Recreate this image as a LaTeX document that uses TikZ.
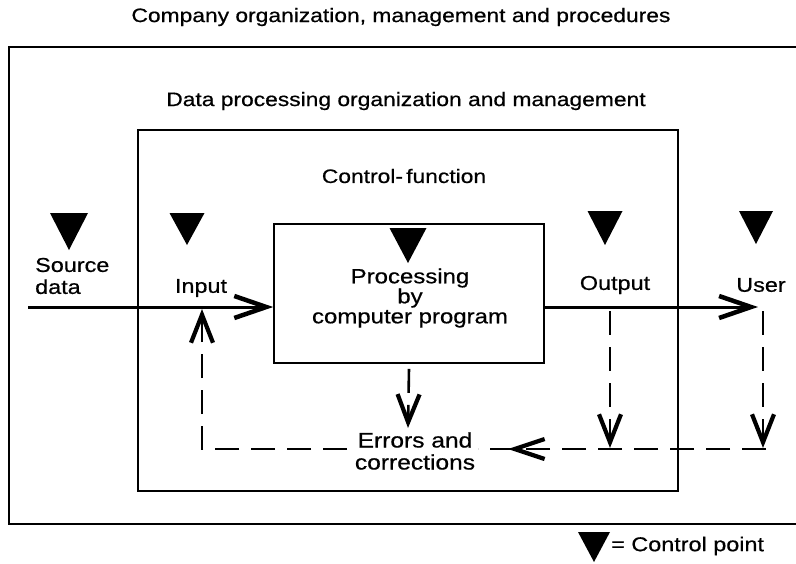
\documentclass[tikz,border=0pt]{standalone}
\usepackage{fontspec}
\setmainfont{Liberation Sans}[FakeStretch=1.17,FakeBold=0.6]
\usetikzlibrary{arrows.meta,decorations.markings}
\newcommand\ctrltri[4]{\fill (#1-#3,#2) -- (#1+#3,#2) -- (#1,#2+#4) -- cycle;}
\begin{document}
\begin{tikzpicture}[x=1pt,y=-1pt,
  txt/.style={font=\fontsize{19.5}{22}\selectfont, inner sep=0pt},
  lbl/.style={font=\fontsize{20}{22}\selectfont, inner sep=0pt},
  frame/.style={draw, line width=1.6pt},
  flow/.style={line width=3pt},
  dashln/.style={line width=2.6pt, dash pattern=on 24pt off 12pt},
  tipv/.style={-{Straight Barb[length=32pt,width=22pt,line width=4.5pt]}},
  tipd/.style={-{Straight Barb[length=28pt,width=22pt,line width=4.2pt]}}]
\useasboundingbox (0,0) rectangle (796,563);
% frames
\draw[frame] (796,47) -- (9,47) -- (9,524) -- (796,524);
\node[frame, minimum width=540pt, minimum height=361pt, inner sep=0pt] (dpbox) at (408,310.5) {};
\node[frame, minimum width=270pt, minimum height=139pt, inner sep=0pt] (proc) at (409,293.5) {};
% titles
\node[txt] (title) at (401,17) {Company organization, management and procedures};
\node[txt] (dptitle) at (406,101) {Data processing organization and management};
\node[txt] (cftitle) at (404,176) {Control-\,function};
% labels
\node[lbl, align=left, anchor=west] (src) at (35,276) {Source\\data};
\node[lbl] (inp) at (201,288) {Input};
\node[lbl] (outp) at (615,285) {Output};
\node[lbl] (user) at (761,285) {User};
\node[lbl, font=\fontsize{20.5}{20}\selectfont, align=center] (ptxt) at (410,298) {Processing\\by\\computer program};
\node[lbl, font=\fontsize{21}{22}\selectfont, align=center] (err) at (415,451) {Errors and\\corrections};
\node[lbl, anchor=west] (leg) at (611,546) {= Control point};
% control points
\ctrltri{69}{213}{19}{37}
\ctrltri{187}{213}{17.5}{32}
\ctrltri{408}{228}{18.5}{35}
\ctrltri{605}{211}{17.5}{34}
\ctrltri{756}{211}{17}{33}
\ctrltri{594}{532}{16}{30}
% coordinates
\coordinate (srcS) at (28,307);
\coordinate (userT) at (758,307);
\coordinate (inpB) at (202,449);
\coordinate (inpT) at (202,309);
\coordinate (outT) at (610,311);
\coordinate (outB) at (610,448);
\coordinate (usrT) at (763,311);
\coordinate (usrB) at (763,448);
\coordinate (botR) at (766,449);
\coordinate (errL) at (347,449);
\coordinate (errR) at (478,449);
\coordinate (procD) at (408,428);
% flow
\draw[flow, tipv] (srcS) -- (proc.west |- srcS);
\draw[flow, tipv] (proc.east |- srcS) -- (userT);
% feedback
\draw[dashln, tipd] (errL) -- (inpB) -- (inpT);
\draw[dashln, tipd] (outT) -- (outB);
\draw[dashln, tipd] (usrT) -- (usrB);
\draw[dashln, tipd] ([yshift=-5pt]proc.south) -- (procD);
\draw[dashln, postaction={decorate}, decoration={markings, mark=at position 258pt with {\arrow{Straight Barb[length=30pt,width=20pt,line width=4.2pt]}}}] (botR) -- (errR);
\end{tikzpicture}
\end{document}
